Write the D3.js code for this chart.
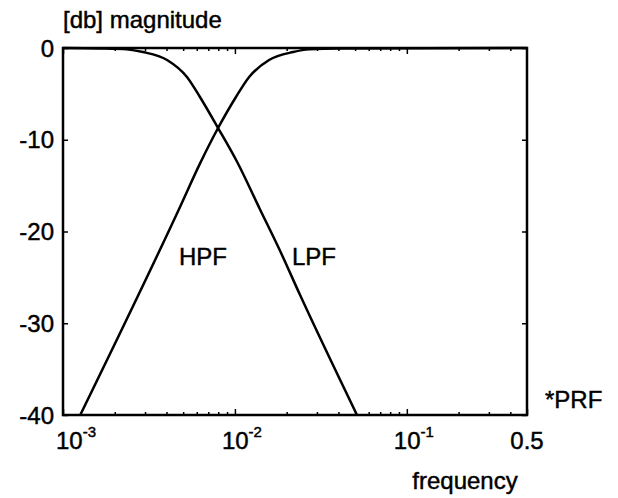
<!DOCTYPE html>
<html>
<head>
<meta charset="utf-8">
<script src="https://cdn.jsdelivr.net/npm/d3@7"></script>
<style>
  html, body { margin: 0; padding: 0; background: #fff; }
  svg { display: block; }
  text { font-family: "Liberation Sans", Arial, Helvetica, sans-serif; fill: #000; stroke: #000; stroke-width: 0.45px; }
</style>
</head>
<body>
<svg id="chart" width="618" height="498"></svg>
<script>
// ---- data ----
const lpfFreq = [0.001, 0.00164, 0.00235, 0.00292, 0.00403, 0.00526, 0.00626, 0.00798, 0.01029, 0.0140, 0.0183, 0.0239, 0.0513];
const lpfDb   = [0, -0.05, -0.15, -0.44, -1.31, -3.16, -5.34, -8.72, -12.4, -17.6, -22.1, -26.9, -40];
const hpfFreq = [0.00126, 0.0048, 0.00626, 0.00798, 0.01014, 0.0121, 0.0158, 0.0218, 0.0270, 0.0408, 0.5];
const hpfDb   = [-40, -17.3, -12.6, -8.72, -5.34, -3.16, -1.31, -0.44, -0.15, -0.05, 0];
const yTicks = [0, -10, -20, -30, -40];
const xMajorTicks = [0.001, 0.01, 0.1];
const xMajorExp = ["-3", "-2", "-1"];
const xEndTick = 0.5;
const xEndLabel = "0.5";
const curveLabels = ["HPF", "LPF"];
const yTitle = "[db] magnitude";
const xTitle = "frequency";
const xUnit = "*PRF";

// ---- layout ----
const L = 63, R = 527, T = 48, B = 415;
const FS = 24;
const svg = d3.select("#chart");
const x = d3.scaleLog().domain([0.001, 0.5]).range([L, R]);
const y = d3.scaleLinear().domain([-40, 0]).range([B, T]);

svg.append("defs").append("clipPath").attr("id", "clip")
  .append("rect").attr("x", L).attr("y", T - 2).attr("width", R - L).attr("height", B - T + 4);

// minor ticks
const minor = [];
for (let e = -3; e <= -1; e++) for (let k = 2; k <= 9; k++) {
  const v = k * Math.pow(10, e);
  if (v < 0.5) minor.push(v);
}

const g = svg.append("g");
const axB = d3.axisBottom(x).tickValues(xMajorTicks.concat([xEndTick])).tickSize(-6).tickFormat("");
const axBm = d3.axisBottom(x).tickValues(minor).tickSize(-3).tickFormat("");
const axT = d3.axisTop(x).tickValues(xMajorTicks).tickSize(-6).tickFormat("");
const axTm = d3.axisTop(x).tickValues(minor).tickSize(-3).tickFormat("");
g.append("g").attr("transform", `translate(0,${B})`).call(axB);
g.append("g").attr("transform", `translate(0,${B})`).call(axBm);
g.append("g").attr("transform", `translate(0,${T})`).call(axT);
g.append("g").attr("transform", `translate(0,${T})`).call(axTm);
const axL = d3.axisLeft(y).tickValues(yTicks).tickSize(-5).tickFormat("");
const axR = d3.axisRight(y).tickValues(yTicks).tickSize(-5).tickFormat("");
g.append("g").attr("transform", `translate(${L},0)`).call(axL);
g.append("g").attr("transform", `translate(${R},0)`).call(axR);
g.selectAll(".domain").remove();
g.selectAll(".tick line").attr("stroke", "#000").attr("stroke-width", 1.5);

// box
svg.append("rect").attr("x", L).attr("y", T).attr("width", R - L).attr("height", B - T)
  .attr("fill", "none").attr("stroke", "#000").attr("stroke-width", 2.5);

// y tick labels
svg.append("g").selectAll("text").data(yTicks).join("text")
  .attr("x", L - 9).attr("y", d => y(d) + 8.5)
  .attr("text-anchor", "end").attr("font-size", FS)
  .text(d => String(d));

// x tick labels
const xl = svg.append("g").selectAll("text").data(xMajorTicks).join("text")
  .attr("x", (d, i) => x(d) - 13 + (i === 0 ? 6 : 0)).attr("y", B + 34)
  .attr("font-size", FS);
xl.append("tspan").text("10");
xl.append("tspan").attr("font-size", 15).attr("dy", -12).text((d, i) => xMajorExp[i]);
svg.append("text").attr("x", x(xEndTick)).attr("y", B + 34).attr("text-anchor", "middle")
  .attr("font-size", FS).text(xEndLabel);

// curves
const line = d3.line().x(d => x(d[0])).y(d => y(d[1])).curve(d3.curveMonotoneX);
const lpf = lpfFreq.map((f, i) => [f, lpfDb[i]]);
const hpf = hpfFreq.map((f, i) => [f, hpfDb[i]]);
const curves = svg.append("g").attr("clip-path", "url(#clip)");
curves.append("path").datum(lpf).attr("d", line).attr("fill", "none").attr("stroke", "#000").attr("stroke-width", 2.5);
curves.append("path").datum(hpf).attr("d", line).attr("fill", "none").attr("stroke", "#000").attr("stroke-width", 2.5);

// curve labels
svg.append("text").attr("x", 179).attr("y", 265).attr("font-size", FS).text(curveLabels[0]);
svg.append("text").attr("x", 292).attr("y", 265).attr("font-size", FS).text(curveLabels[1]);

// titles
svg.append("text").attr("x", 63).attr("y", 28).attr("font-size", FS).text(yTitle);
svg.append("text").attr("x", 465).attr("y", 489).attr("text-anchor", "middle").attr("font-size", FS).text(xTitle);
svg.append("text").attr("x", 545).attr("y", 408).attr("font-size", FS).text(xUnit);
</script>
</body>
</html>
